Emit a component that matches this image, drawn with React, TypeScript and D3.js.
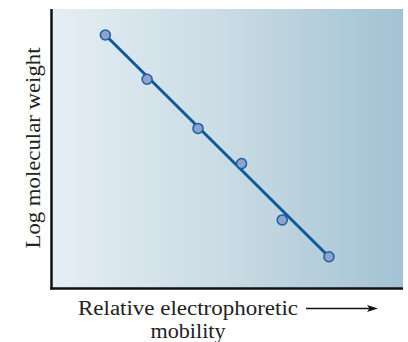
import React from "react";
import * as d3 from "d3";

const mobility = [0.152, 0.271, 0.416, 0.54, 0.656, 0.789];
const logMW = [0.907, 0.748, 0.572, 0.446, 0.244, 0.112];
const fitX = [0.152, 0.789];
const fitY = [0.907, 0.112];
const yLabel = "Log molecular weight";
const xLabelLines = ["Relative electrophoretic", "mobility"];

const W = 408;
const H = 342;
const M = { left: 52, top: 9, right: 5, bottom: 54 };

export default function App() {
  const x = d3.scaleLinear().domain([0, 1]).range([M.left, W - M.right]);
  const y = d3.scaleLinear().domain([0, 1]).range([H - M.bottom, M.top]);
  const pts = mobility.map((m, i) => [x(m), y(logMW[i])] as [number, number]);
  const fit = d3.line()(fitX.map((v, i) => [x(v), y(fitY[i])] as [number, number]));
  const font = "Liberation Serif";
  const x0 = M.left;
  const y0 = H - M.bottom;
  return (
    <svg width={W} height={H} style={{ position: "absolute", left: 0, top: 0 }}>
      <defs>
        <linearGradient id="bg" x1="0" x2="1" y1="0" y2="0">
          <stop offset="0" stopColor="#e5eef4" />
          <stop offset="0.5" stopColor="#c9dbe4" />
          <stop offset="1" stopColor="#a2c2d3" />
        </linearGradient>
      </defs>
      <rect x={x0} y={M.top} width={W - M.right - x0} height={y0 - M.top} fill="url(#bg)" />
      <path d={fit || ""} stroke="#11599b" strokeWidth={3} fill="none" />
      {pts.map((p, i) => (
        <circle key={i} cx={p[0]} cy={p[1]} r={5} fill="#8ea2cf" stroke="#1c5e9e" strokeWidth={1.5} />
      ))}
      <line x1={x0 - 0.5} x2={x0 - 0.5} y1={M.top} y2={y0 + 1.5} stroke="#111" strokeWidth={2.5} />
      <line x1={x0 - 1.75} x2={W - M.right} y1={y0 + 0.5} y2={y0 + 0.5} stroke="#111" strokeWidth={2.5} />
      <text
        transform={`translate(40,148) rotate(-90)`}
        textAnchor="middle"
        fontFamily={font}
        fontSize={22}
        fill="#222"
        textLength={201}
        lengthAdjust="spacingAndGlyphs"
      >
        {yLabel}
      </text>
      <text x={188} y={315} textAnchor="middle" fontFamily={font} fontSize={20} fill="#222" textLength={220} lengthAdjust="spacingAndGlyphs">
        {xLabelLines[0]}
      </text>
      <text x={188} y={337.5} textAnchor="middle" fontFamily={font} fontSize={20} fill="#222" textLength={75} lengthAdjust="spacingAndGlyphs">
        {xLabelLines[1]}
      </text>
      <line x1={306} x2={371} y1={308.5} y2={308.5} stroke="#111" strokeWidth={1.5} />
      <path d="M378,308.5 L367,305 L369.5,308.5 L367,312 Z" fill="#111" />
    </svg>
  );
}
